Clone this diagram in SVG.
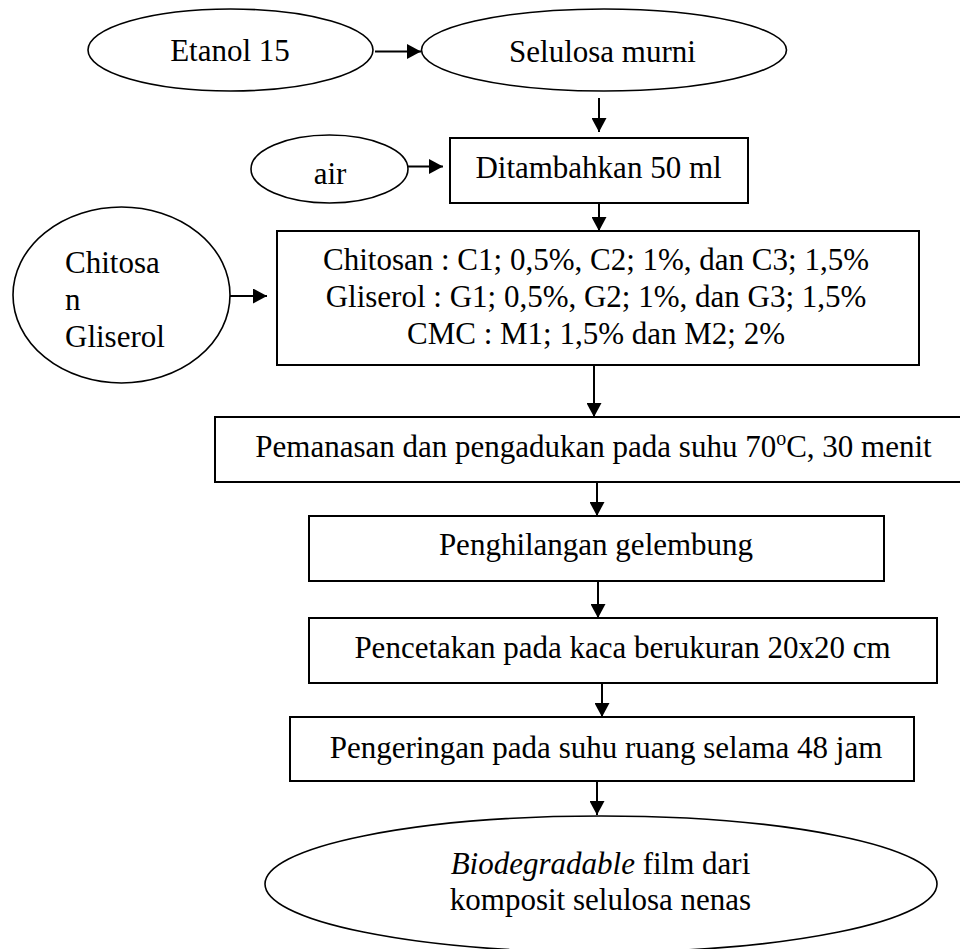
<svg xmlns="http://www.w3.org/2000/svg" width="960" height="949" viewBox="0 0 960 949">
<defs>
<marker id="ah" markerUnits="userSpaceOnUse" markerWidth="14" markerHeight="15" viewBox="0 0 14 15" refX="14" refY="7.5" orient="auto">
<path d="M0,0 L14,7.5 L0,15 z" fill="#000"/>
</marker>
<style>
.n{fill:#fff;stroke:#000;stroke-width:2}
.e{fill:#fff;stroke:#000;stroke-width:1.6}
.t{font-family:"Liberation Serif","Times New Roman",serif;font-size:31px;fill:#000}
.c{text-anchor:middle}
.a{stroke:#000;stroke-width:2;fill:none;marker-end:url(#ah)}
</style>
</defs>
<rect width="960" height="949" fill="#fff"/>
<g id="connectors">
<line class="a" x1="375" y1="51.5" x2="421" y2="51.5"/>
<line class="a" x1="599" y1="98" x2="599" y2="132"/>
<line class="a" x1="408" y1="166.5" x2="443" y2="166.5"/>
<line class="a" x1="599" y1="203" x2="599" y2="231"/>
<line class="a" x1="230" y1="296" x2="267" y2="296"/>
<line class="a" x1="594" y1="365" x2="594" y2="417"/>
<line class="a" x1="597" y1="482" x2="597" y2="516"/>
<line class="a" x1="598" y1="581" x2="598" y2="618"/>
<line class="a" x1="602" y1="683" x2="602" y2="717"/>
<line class="a" x1="597" y1="781" x2="597" y2="815"/>
</g>
<g id="etanol">
<ellipse class="e" cx="230.5" cy="50" rx="142.5" ry="41"/>
<text class="t c" x="230" y="61">Etanol 15</text>
</g>
<g id="selulosa">
<ellipse class="e" cx="604" cy="50" rx="182.5" ry="41"/>
<text class="t c" x="602.5" y="62">Selulosa murni</text>
</g>
<g id="air">
<ellipse class="e" cx="329.5" cy="169" rx="78.5" ry="34"/>
<text class="t c" x="330" y="184">air</text>
</g>
<g id="ditambahkan">
<rect class="n" x="450" y="138" width="298" height="65"/>
<text class="t c" x="598.5" y="178">Ditambahkan 50 ml</text>
</g>
<g id="chitosan-gliserol">
<ellipse class="e" cx="121.5" cy="295" rx="108.5" ry="88"/>
<text class="t" x="65" y="273">Chitosa</text>
<text class="t" x="65" y="310">n</text>
<text class="t" x="65" y="347">Gliserol</text>
</g>
<g id="formulasi">
<rect class="n" x="277" y="231" width="642" height="134"/>
<text class="t c" x="596" y="270">Chitosan : C1; 0,5%, C2; 1%, dan C3; 1,5%</text>
<text class="t c" x="596" y="307">Gliserol : G1; 0,5%, G2; 1%, dan G3; 1,5%</text>
<text class="t c" x="596" y="344">CMC : M1; 1,5% dan M2; 2%</text>
</g>
<g id="pemanasan">
<rect class="n" x="215" y="417" width="750" height="65"/>
<text class="t c" x="593.5" y="457">Pemanasan dan pengadukan pada suhu 70<tspan font-size="20" dy="-12">o</tspan><tspan dy="12">C, 30 menit</tspan></text>
</g>
<g id="penghilangan">
<rect class="n" x="309" y="516" width="575" height="65"/>
<text class="t c" x="596" y="555">Penghilangan gelembung</text>
</g>
<g id="pencetakan">
<rect class="n" x="309" y="618" width="628" height="65"/>
<text class="t c" x="622.5" y="658">Pencetakan pada kaca berukuran 20x20 cm</text>
</g>
<g id="pengeringan">
<rect class="n" x="290" y="717" width="624" height="64"/>
<text class="t c" x="606" y="758">Pengeringan pada suhu ruang selama 48 jam</text>
</g>
<g id="produk">
<ellipse class="e" cx="601" cy="884" rx="336" ry="68"/>
<text class="t c" x="600.5" y="874"><tspan font-style="italic">Biodegradable</tspan> film dari</text>
<text class="t c" x="600.5" y="910">komposit selulosa nenas</text>
</g>
</svg>
